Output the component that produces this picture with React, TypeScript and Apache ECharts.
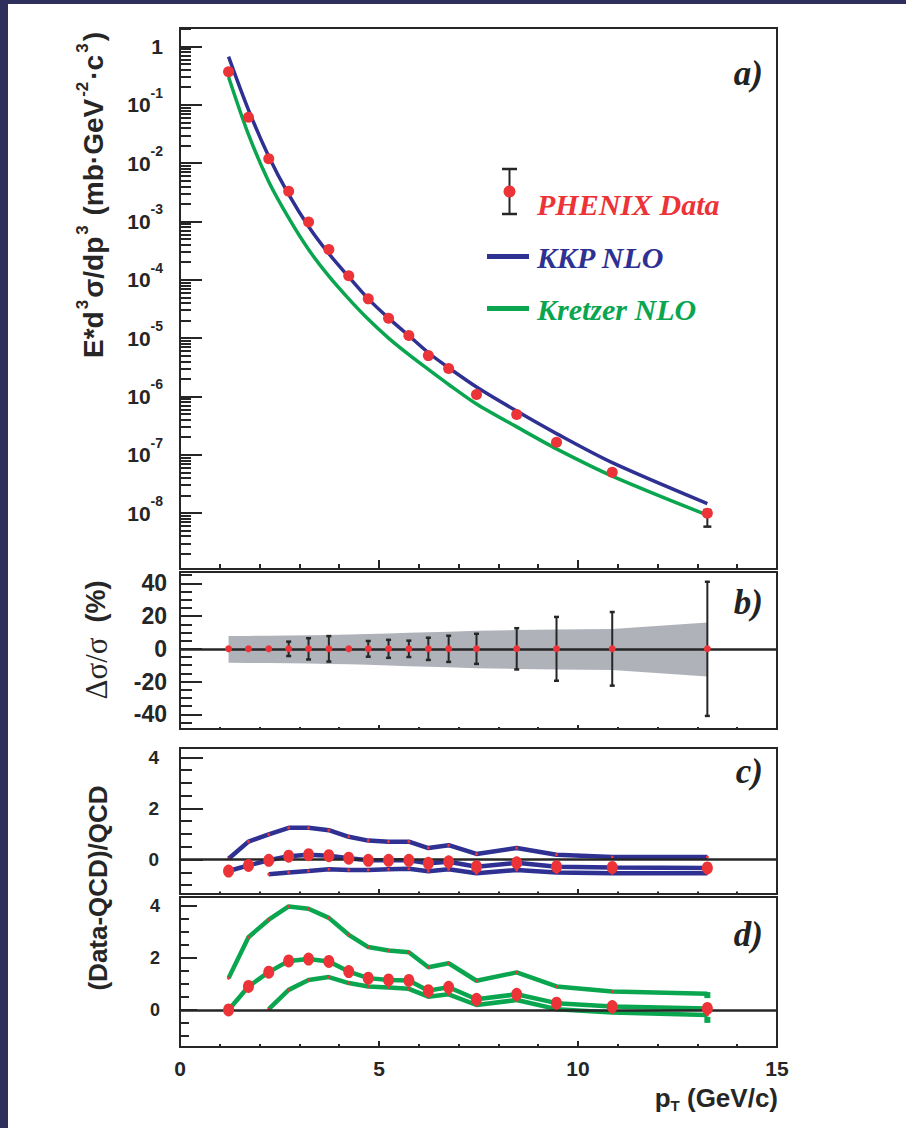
import React, { useEffect, useRef } from "react";
import * as echarts from "echarts";

// ---------------- data ----------------
const pT = [1.22, 1.72, 2.23, 2.73, 3.23, 3.74, 4.24, 4.73, 5.24, 5.75, 6.24, 6.75, 7.45, 8.46, 9.46, 10.86, 13.25];

// panel a) invariant cross section (mb GeV^-2 c^3)
const phenixData = [0.37, 0.061, 0.0119, 3.3e-3, 9.8e-4, 3.3e-4, 1.17e-4, 4.7e-5, 2.19e-5, 1.11e-5, 5.0e-6, 3.0e-6, 1.08e-6, 4.9e-7, 1.63e-7, 5.0e-8, 9.9e-9];
const phenixErrLowPct = [2, 2, 2, 3, 3, 3, 3, 3, 3, 3, 3, 4, 4, 5, 6, 8, 41];
const phenixErrHighPct = [2, 2, 2, 3, 3, 3, 3, 3, 3, 3, 3, 4, 4, 5, 6, 8, 14];
const kkpNLO = [0.67, 0.082, 0.013, 2.9e-3, 8.2e-4, 2.8e-4, 1.12e-4, 4.7e-5, 2.2e-5, 1.1e-5, 5.6e-6, 3.1e-6, 1.45e-6, 5.6e-7, 2.3e-7, 7.3e-8, 1.45e-8];
const kretzerNLO = [0.30, 0.031, 4.8e-3, 1.15e-3, 3.3e-4, 1.15e-4, 4.7e-5, 2.1e-5, 1.0e-5, 5.2e-6, 2.9e-6, 1.6e-6, 7.4e-7, 3.0e-7, 1.26e-7, 4.3e-8, 9.2e-9];

// panel b) relative errors (%)
const statErrPct = [0, 0, 0, 4.4, 6.5, 7.8, 0, 4.8, 5.5, 5.0, 6.8, 8.0, 9.2, 12.6, 19.5, 22.5, 41.0];
const sysUpPct = [7.8, 7.9, 8.0, 8.2, 8.3, 8.5, 8.7, 9.0, 9.4, 9.8, 10.1, 10.5, 11.0, 11.5, 11.8, 12.1, 16.1];
const sysLowPct = [-8.5, -8.6, -8.7, -8.8, -9.0, -9.2, -9.4, -9.8, -10.2, -10.6, -10.9, -11.3, -11.8, -12.3, -12.6, -12.9, -16.9];

// panel c) (Data-QCD)/QCD for KKP, three scales
const kkpRatioHigh = [0.03, 0.70, 0.98, 1.24, 1.24, 1.15, 0.89, 0.74, 0.70, 0.70, 0.45, 0.56, 0.22, 0.45, 0.19, 0.10, 0.10];
const kkpRatioMid = [-0.45, -0.23, -0.03, 0.13, 0.19, 0.15, 0.05, -0.03, -0.03, -0.03, -0.15, -0.09, -0.28, -0.13, -0.28, -0.31, -0.33];
const kkpRatioLow = [null, null, -0.58, -0.51, -0.45, -0.38, -0.41, -0.41, -0.38, -0.36, -0.46, -0.38, -0.54, -0.41, -0.51, -0.54, -0.54];

// panel d) (Data-QCD)/QCD for Kretzer, three scales
const kreRatioHigh = [1.22, 2.79, 3.46, 3.97, 3.88, 3.53, 2.88, 2.41, 2.28, 2.21, 1.64, 1.79, 1.12, 1.44, 0.90, 0.71, 0.62];
const kreRatioMid = [0.0, 0.90, 1.45, 1.88, 1.95, 1.86, 1.47, 1.22, 1.15, 1.13, 0.74, 0.87, 0.41, 0.60, 0.26, 0.13, 0.06];
const kreRatioLow = [null, null, 0.03, 0.77, 1.15, 1.26, 1.03, 0.90, 0.86, 0.81, 0.51, 0.60, 0.19, 0.38, 0.03, -0.10, -0.19];
const kreEndMarks = [[13.25, 0.57], [13.25, -0.38]];

// tick values
const logDecadeTicks = [-8, -7, -6, -5, -4, -3, -2, -1, 0];
const logMinorDecades = [-9, -8, -7, -6, -5, -4, -3, -2, -1, 0];
const logMinorMultipliers = [2, 3, 4, 5, 6, 7, 8, 9];
const bMajorTicks = [-40, -20, 0, 20, 40];
const bMinorTicks = [-45, -35, -30, -25, -15, -10, -5, 5, 10, 15, 25, 30, 35, 45];
const ratioMajorTicks = [0, 2, 4];
const ratioMinorTicks = [-1, -0.5, 0.5, 1, 1.5, 2.5, 3, 3.5];

// ---------------- style ----------------
const INK = "#262626";
const RED = "#ec3338";
const BLUE = "#2e3192";
const GREEN = "#0aa64f";
const GRAY = "#afb2b9";
const NAVY = "#2f2f5e";
const SANS = '"Liberation Sans", Arial, Helvetica, sans-serif';
const SERIF = '"Liberation Serif", "Times New Roman", serif';

const LEFT = 180;
const WIDTH = 597;

function buildOption(): any {
  const lg = (v: number) => Math.log10(v);
  const logMinor: number[] = [];
  logMinorDecades.forEach((d) => logMinorMultipliers.forEach((m) => logMinor.push(d + Math.log10(m))));

  const grids = [
    { left: LEFT, top: 28, width: WIDTH, height: 541 },
    { left: LEFT, top: 572, width: WIDTH, height: 157 },
    { left: LEFT, top: 748, width: WIDTH, height: 146 },
    { left: LEFT, top: 897, width: WIDTH, height: 150 },
  ].map((g) => ({
    ...g,
    show: true,
    borderColor: INK,
    borderWidth: 2,
    backgroundColor: "transparent",
    containLabel: false,
    outerBoundsMode: "none",
  }));

  const xAxisCfg = (gridIndex: number, majorLen: number, minorLen: number, showLabel: boolean) => ({
    type: "value",
    gridIndex,
    min: 0,
    max: 15,
    interval: 5,
    position: "bottom",
    axisLine: { show: false, onZero: false },
    axisTick: { show: true, inside: true, length: majorLen, lineStyle: { color: INK, width: 2 } },
    minorTick: { show: true, splitNumber: 5, length: minorLen, lineStyle: { color: INK, width: 2 } },
    splitLine: { show: false },
    minorSplitLine: { show: false },
    axisLabel: {
      show: showLabel,
      margin: 11,
      fontSize: 21,
      fontWeight: "bold",
      color: INK,
      fontFamily: SANS,
    },
  });

  const yPair = (
    gridIndex: number,
    min: number,
    max: number,
    majors: number[],
    minors: number[],
    majorLen: number,
    minorLen: number,
    label: any
  ) => [
    {
      type: "value",
      gridIndex,
      min,
      max,
      position: "left",
      axisLine: { show: false, onZero: false },
      splitLine: { show: false },
      axisTick: { show: true, inside: true, length: majorLen, customValues: majors, lineStyle: { color: INK, width: 2 } },
      axisLabel: { ...label, customValues: majors },
    },
    {
      type: "value",
      gridIndex,
      min,
      max,
      position: "left",
      axisLine: { show: false, onZero: false },
      splitLine: { show: false },
      axisTick: { show: true, inside: true, length: minorLen, customValues: minors, lineStyle: { color: INK, width: 2 } },
      axisLabel: { show: false },
    },
  ];

  const labelA = {
    show: true,
    margin: 17,
    color: INK,
    fontFamily: SANS,
    fontSize: 21,
    fontWeight: "bold",
    formatter: (v: number) => (Math.abs(v) < 1e-9 ? "{b|1}" : `{b|10}{s|${Math.round(v)}}`),
    rich: {
      b: { fontSize: 21, fontWeight: "bold", fontFamily: SANS, color: INK },
      s: { fontSize: 14, fontWeight: "bold", fontFamily: SANS, color: INK, padding: [0, 0, 24, 0] },
    },
  };
  const boldLabel = (size: number, margin: number) => ({
    show: true,
    margin,
    color: INK,
    fontFamily: SANS,
    fontSize: size,
    fontWeight: "bold",
  });

  const yAxes = [
    ...yPair(0, -8.96, 0.317, logDecadeTicks, logMinor, 22, 11, labelA),
    ...yPair(1, -49, 46.96, bMajorTicks, bMinorTicks, 22, 12, boldLabel(23, 13)),
    ...yPair(2, -1.35, 4.366, ratioMajorTicks, ratioMinorTicks, 23, 12, boldLabel(19, 21)),
    ...yPair(3, -1.42, 4.33, ratioMajorTicks, ratioMinorTicks, 17, 9, boldLabel(18, 20)),
  ];

  const xAxes = [xAxisCfg(0, 9, 5, false), xAxisCfg(1, 4, 2, false), xAxisCfg(2, 5, 2.5, false), xAxisCfg(3, 6, 3, true)];

  const errRender = (capHalf: number) => (params: any, api: any) => {
    const x = api.value(0);
    const lo = api.value(1);
    const hi = api.value(2);
    if (lo === hi) return null;
    const p1 = api.coord([x, lo]);
    const p2 = api.coord([x, hi]);
    const st = { stroke: INK, lineWidth: 2 };
    return {
      type: "group",
      children: [
        { type: "line", shape: { x1: p1[0], y1: p1[1], x2: p2[0], y2: p2[1] }, style: st },
        { type: "line", shape: { x1: p1[0] - capHalf, y1: p1[1], x2: p1[0] + capHalf, y2: p1[1] }, style: { stroke: INK, lineWidth: 2.5 } },
        { type: "line", shape: { x1: p2[0] - capHalf, y1: p2[1], x2: p2[0] + capHalf, y2: p2[1] }, style: { stroke: INK, lineWidth: 2.5 } },
      ],
    };
  };

  const zeroLine = {
    silent: true,
    symbol: "none",
    z: 5,
    label: { show: false },
    lineStyle: { color: INK, width: 2.5, type: "solid", opacity: 1 },
    data: [{ yAxis: 0 }],
  };

  const pairs = (ys: (number | null)[]) =>
    pT.map((x, i) => [x, ys[i]]).filter((d) => d[1] !== null && d[1] !== undefined);

  const dotStyle = { color: RED, opacity: 1, borderWidth: 0 };

  const bandLine = (xi: number, yi: number, ys: (number | null)[], color: string) => ({
    type: "line",
    xAxisIndex: xi,
    yAxisIndex: yi,
    data: pairs(ys),
    showSymbol: true,
    symbol: "circle",
    symbolSize: 3,
    itemStyle: dotStyle,
    lineStyle: { color, width: 4.5, opacity: 1 },
    z: 3,
    silent: true,
  });

  const series: any[] = [
    // ---- panel a ----
    {
      type: "custom",
      xAxisIndex: 0,
      yAxisIndex: 0,
      renderItem: errRender(4),
      encode: { x: 0, y: [1, 2] },
      data: pT.map((x, i) => [
        x,
        lg(phenixData[i] * (1 - phenixErrLowPct[i] / 100)),
        lg(phenixData[i] * (1 + phenixErrHighPct[i] / 100)),
      ]),
      z: 2,
      silent: true,
    },
    {
      type: "line",
      xAxisIndex: 0,
      yAxisIndex: 0,
      data: pT.map((x, i) => [x, lg(kkpNLO[i])]),
      smooth: 0.3,
      showSymbol: false,
      lineStyle: { color: BLUE, width: 3.5, opacity: 1 },
      z: 3,
      silent: true,
    },
    {
      type: "line",
      xAxisIndex: 0,
      yAxisIndex: 0,
      data: pT.map((x, i) => [x, lg(kretzerNLO[i])]),
      smooth: 0.3,
      showSymbol: false,
      lineStyle: { color: GREEN, width: 3.5, opacity: 1 },
      z: 3,
      silent: true,
    },
    {
      type: "scatter",
      xAxisIndex: 0,
      yAxisIndex: 0,
      data: pT.map((x, i) => [x, lg(phenixData[i])]),
      symbolSize: 11,
      itemStyle: dotStyle,
      z: 10,
      silent: true,
    },
    // ---- panel b ----
    {
      type: "custom",
      xAxisIndex: 1,
      yAxisIndex: 2,
      encode: { x: 0, y: 1 },
      data: [[pT[0], sysUpPct[0]]],
      renderItem: (params: any, api: any) => {
        if (params.dataIndex !== 0) return null;
        const top = pT.map((x, i) => api.coord([x, sysUpPct[i]]));
        const bot = pT.map((x, i) => api.coord([x, sysLowPct[i]])).reverse();
        return { type: "polygon", shape: { points: top.concat(bot) }, style: { fill: GRAY } };
      },
      z: 1,
      silent: true,
    },
    {
      type: "custom",
      xAxisIndex: 1,
      yAxisIndex: 2,
      renderItem: errRender(2.5),
      encode: { x: 0, y: [1, 2] },
      data: pT.map((x, i) => [x, -statErrPct[i], statErrPct[i]]),
      z: 6,
      silent: true,
    },
    {
      type: "scatter",
      xAxisIndex: 1,
      yAxisIndex: 2,
      data: pT.map((x) => [x, 0]),
      symbolSize: 7,
      itemStyle: dotStyle,
      z: 10,
      silent: true,
      markLine: zeroLine,
    },
    // ---- panel c ----
    bandLine(2, 4, kkpRatioHigh, BLUE),
    bandLine(2, 4, kkpRatioLow, BLUE),
    {
      type: "line",
      xAxisIndex: 2,
      yAxisIndex: 4,
      data: pairs(kkpRatioMid),
      showSymbol: false,
      lineStyle: { color: BLUE, width: 4.5, opacity: 1 },
      z: 3,
      silent: true,
    },
    {
      type: "scatter",
      xAxisIndex: 2,
      yAxisIndex: 4,
      data: pairs(kkpRatioMid),
      symbolSize: [11, 13],
      itemStyle: dotStyle,
      z: 10,
      silent: true,
      markLine: zeroLine,
    },
    // ---- panel d ----
    bandLine(3, 6, kreRatioHigh, GREEN),
    bandLine(3, 6, kreRatioLow, GREEN),
    {
      type: "line",
      xAxisIndex: 3,
      yAxisIndex: 6,
      data: pairs(kreRatioMid),
      showSymbol: false,
      lineStyle: { color: GREEN, width: 4.5, opacity: 1 },
      z: 3,
      silent: true,
    },
    {
      type: "scatter",
      xAxisIndex: 3,
      yAxisIndex: 6,
      data: kreEndMarks,
      symbol: "rect",
      symbolSize: 6,
      itemStyle: { color: GREEN, opacity: 1 },
      z: 4,
      silent: true,
    },
    {
      type: "scatter",
      xAxisIndex: 3,
      yAxisIndex: 6,
      data: pairs(kreRatioMid),
      symbolSize: [11, 13],
      itemStyle: dotStyle,
      z: 10,
      silent: true,
      markLine: zeroLine,
    },
  ];

  const legendFont = `italic bold 30px ${SERIF}`;
  const letter = (t: string, y: number) => ({
    type: "text",
    x: 763,
    y,
    z: 100,
    style: {
      text: t,
      font: `italic bold 35px ${SERIF}`,
      fill: "#222",
      align: "right",
      verticalAlign: "middle",
      textAlign: "right",
      textVerticalAlign: "middle",
    },
  });

  const graphic: any[] = [
    { type: "rect", shape: { x: 0, y: 0, width: 8, height: 1128 }, style: { fill: NAVY }, z: 100 },
    { type: "rect", shape: { x: 0, y: 0, width: 906, height: 4 }, style: { fill: NAVY }, z: 100 },
    // legend
    { type: "line", shape: { x1: 509.5, y1: 169, x2: 509.5, y2: 214 }, style: { stroke: INK, lineWidth: 2 }, z: 100 },
    { type: "line", shape: { x1: 502, y1: 169, x2: 517, y2: 169 }, style: { stroke: INK, lineWidth: 2.5 }, z: 100 },
    { type: "line", shape: { x1: 502, y1: 214, x2: 517, y2: 214 }, style: { stroke: INK, lineWidth: 2.5 }, z: 100 },
    { type: "circle", shape: { cx: 509.5, cy: 191.5, r: 6 }, style: { fill: RED }, z: 101 },
    {
      type: "text",
      x: 537,
      y: 204,
      z: 100,
      style: { text: "PHENIX Data", font: legendFont, fill: RED, verticalAlign: "middle", textVerticalAlign: "middle" },
    },
    { type: "line", shape: { x1: 487, y1: 256.5, x2: 529, y2: 256.5 }, style: { stroke: BLUE, lineWidth: 5 }, z: 100 },
    {
      type: "text",
      x: 537,
      y: 257,
      z: 100,
      style: { text: "KKP NLO", font: legendFont, fill: BLUE, verticalAlign: "middle", textVerticalAlign: "middle" },
    },
    { type: "line", shape: { x1: 487, y1: 308.5, x2: 529, y2: 308.5 }, style: { stroke: GREEN, lineWidth: 5 }, z: 100 },
    {
      type: "text",
      x: 537,
      y: 309,
      z: 100,
      style: { text: "Kretzer NLO", font: legendFont, fill: GREEN, verticalAlign: "middle", textVerticalAlign: "middle" },
    },
    letter("a)", 73),
    letter("b)", 602),
    letter("c)", 771),
    letter("d)", 934),
    // axis titles
    {
      type: "text",
      x: 93,
      y: 195,
      rotation: Math.PI / 2,
      z: 100,
      style: {
        text: "{m|E*d}{s|3}{m|σ/dp}{s|3}{m| (mb·GeV}{s|-2}{m|·c}{s|3}{m|)}",
        align: "center",
        verticalAlign: "middle",
        textAlign: "center",
        textVerticalAlign: "middle",
        rich: {
          m: { fontSize: 28, fontWeight: "bold", fontFamily: SANS, fill: INK, color: INK },
          s: { fontSize: 17, fontWeight: "bold", fontFamily: SANS, fill: INK, color: INK, padding: [0, 2, 22, 2] },
        },
      },
    },
    {
      type: "text",
      x: 96,
      y: 640,
      rotation: Math.PI / 2,
      z: 100,
      style: {
        text: "{g|Δσ/σ}{p|  (%)}",
        align: "center",
        verticalAlign: "middle",
        textAlign: "center",
        textVerticalAlign: "middle",
        rich: {
          g: { fontSize: 31, fontFamily: SERIF, fill: INK, color: INK },
          p: { fontSize: 27, fontWeight: "bold", fontFamily: SANS, fill: INK, color: INK },
        },
      },
    },
    {
      type: "text",
      x: 98,
      y: 888,
      rotation: Math.PI / 2,
      z: 100,
      style: {
        text: "(Data-QCD)/QCD",
        font: `bold 26px ${SANS}`,
        fill: INK,
        align: "center",
        verticalAlign: "middle",
        textAlign: "center",
        textVerticalAlign: "middle",
      },
    },
    {
      type: "text",
      x: 778,
      y: 1098,
      z: 100,
      style: {
        text: "{m|p}{t|T}{m| (GeV/c)}",
        align: "right",
        verticalAlign: "middle",
        textAlign: "right",
        textVerticalAlign: "middle",
        rich: {
          m: { fontSize: 26, fontWeight: "bold", fontFamily: SANS, fill: INK, color: INK },
          t: { fontSize: 15, fontWeight: "bold", fontFamily: SANS, fill: INK, color: INK, padding: [14, 0, 0, 0] },
        },
      },
    },
  ];

  return {
    animation: false,
    backgroundColor: "#ffffff",
    grid: grids,
    xAxis: xAxes,
    yAxis: yAxes,
    series,
    graphic,
  };
}

export default function App() {
  const ref = useRef<HTMLDivElement>(null);
  useEffect(() => {
    if (!ref.current) return;
    const chart = echarts.init(ref.current, undefined, { renderer: "svg" });
    chart.setOption(buildOption());
    return () => chart.dispose();
  }, []);
  return (
    <div style={{ position: "absolute", left: 0, top: 0, width: 906, height: 1128, background: "#fff" }}>
      <div ref={ref} style={{ width: 906, height: 1128 }} />
    </div>
  );
}
